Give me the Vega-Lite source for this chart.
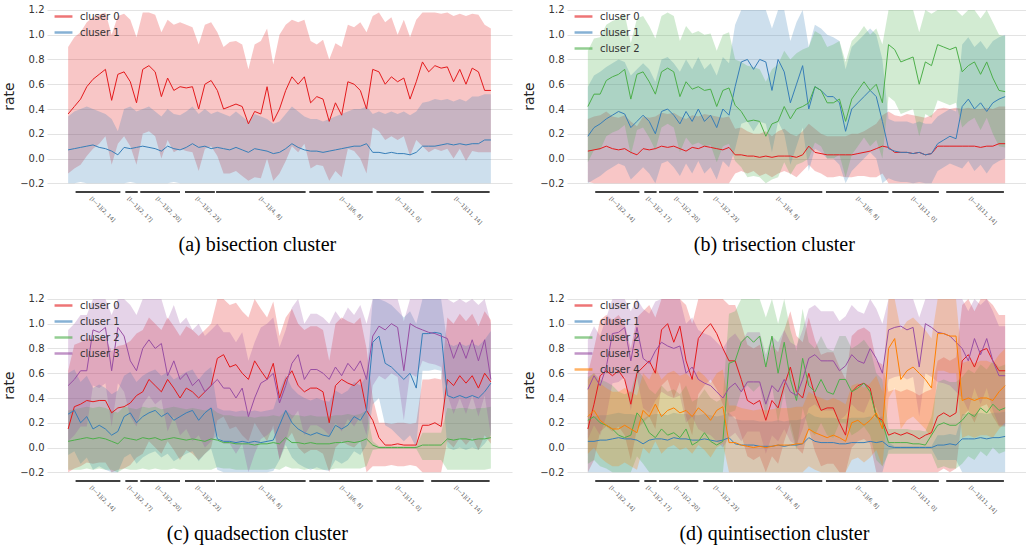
{
"$schema": "https://vega.github.io/schema/vega-lite/v6.json",
"background": "white",
"padding": {"left": 2, "top": 0, "right": 0, "bottom": 0},
"config": {
  "font": "DejaVu Sans",
  "view": {"stroke": null},
  "axisY": {"grid": true, "gridColor": "#e3e3e3", "ticks": false, "tickSize": 0, "domain": false, "labelFontSize": 10, "labelColor": "#333", "labelPadding": 3, "titleFontSize": 14, "titleFontWeight": "normal", "titleColor": "#222", "titlePadding": 3, "tickCount": 8},
  "legend": {"orient": "top-left", "offset": 6, "padding": 0, "rowPadding": -4, "labelFontSize": 10, "labelColor": "#333", "symbolType": "stroke", "symbolSize": 320, "symbolStrokeWidth": 2.5, "labelOffset": 6, "symbolOpacity": 0.6}
},
"datasets": {
  "seg": [{"s":6,"e":42},{"s":46,"e":56},{"s":58,"e":90},{"s":94,"e":118},{"s":119,"e":191},{"s":194,"e":245},{"s":248,"e":286},{"s":292,"e":339}],
  "pa": [
{"x":0,"m0":0.36,"l0":-0.12,"h0":0.9,"m1":0.07,"l1":-0.2,"h1":0.34},
{"x":5,"m0":0.42,"l0":-0.08,"h0":0.98,"m1":0.08,"l1":-0.2,"h1":0.38},
{"x":10,"m0":0.48,"l0":-0.05,"h0":1.02,"m1":0.09,"l1":-0.19,"h1":0.4},
{"x":15,"m0":0.58,"l0":0.02,"h0":1.1,"m1":0.1,"l1":-0.2,"h1":0.42},
{"x":20,"m0":0.64,"l0":0.08,"h0":1.14,"m1":0.11,"l1":-0.2,"h1":0.4},
{"x":25,"m0":0.68,"l0":0.12,"h0":1.16,"m1":0.09,"l1":-0.2,"h1":0.38},
{"x":30,"m0":0.72,"l0":0.18,"h0":1.18,"m1":0.08,"l1":-0.2,"h1":0.36},
{"x":35,"m0":0.47,"l0":-0.05,"h0":1.0,"m1":0.06,"l1":-0.2,"h1":0.32},
{"x":40,"m0":0.68,"l0":0.12,"h0":1.15,"m1":0.03,"l1":-0.2,"h1":0.22},
{"x":45,"m0":0.7,"l0":0.18,"h0":1.17,"m1":0.09,"l1":-0.2,"h1":0.4},
{"x":50,"m0":0.62,"l0":0.1,"h0":1.12,"m1":0.08,"l1":-0.19,"h1":0.42},
{"x":55,"m0":0.45,"l0":-0.05,"h0":0.98,"m1":0.09,"l1":-0.2,"h1":0.38},
{"x":60,"m0":0.72,"l0":0.2,"h0":1.18,"m1":0.1,"l1":-0.2,"h1":0.4},
{"x":65,"m0":0.75,"l0":0.22,"h0":1.18,"m1":0.09,"l1":-0.2,"h1":0.42},
{"x":70,"m0":0.7,"l0":0.18,"h0":1.16,"m1":0.08,"l1":-0.2,"h1":0.38},
{"x":75,"m0":0.5,"l0":0.0,"h0":1.02,"m1":0.06,"l1":-0.2,"h1":0.34},
{"x":80,"m0":0.65,"l0":0.15,"h0":1.12,"m1":0.1,"l1":-0.2,"h1":0.4},
{"x":85,"m0":0.55,"l0":0.05,"h0":1.08,"m1":0.08,"l1":-0.19,"h1":0.36},
{"x":90,"m0":0.58,"l0":0.08,"h0":1.1,"m1":0.07,"l1":-0.2,"h1":0.35},
{"x":95,"m0":0.57,"l0":0.06,"h0":1.08,"m1":0.09,"l1":-0.2,"h1":0.38},
{"x":100,"m0":0.58,"l0":0.05,"h0":1.06,"m1":0.12,"l1":-0.2,"h1":0.42},
{"x":105,"m0":0.4,"l0":-0.1,"h0":0.92,"m1":0.09,"l1":-0.2,"h1":0.36},
{"x":110,"m0":0.6,"l0":0.08,"h0":1.08,"m1":0.1,"l1":-0.2,"h1":0.4},
{"x":115,"m0":0.63,"l0":0.1,"h0":1.1,"m1":0.08,"l1":-0.2,"h1":0.36},
{"x":120,"m0":0.55,"l0":0.02,"h0":1.02,"m1":0.09,"l1":-0.2,"h1":0.38},
{"x":125,"m0":0.4,"l0":-0.12,"h0":0.9,"m1":0.08,"l1":-0.2,"h1":0.36},
{"x":130,"m0":0.42,"l0":-0.12,"h0":0.94,"m1":0.07,"l1":-0.2,"h1":0.34},
{"x":135,"m0":0.44,"l0":-0.1,"h0":0.95,"m1":0.09,"l1":-0.2,"h1":0.38},
{"x":140,"m0":0.42,"l0":-0.14,"h0":0.92,"m1":0.07,"l1":-0.2,"h1":0.34},
{"x":145,"m0":0.28,"l0":-0.18,"h0":0.72,"m1":0.05,"l1":-0.2,"h1":0.3},
{"x":150,"m0":0.38,"l0":-0.15,"h0":0.92,"m1":0.08,"l1":-0.2,"h1":0.36},
{"x":155,"m0":0.36,"l0":-0.16,"h0":0.95,"m1":0.07,"l1":-0.2,"h1":0.34},
{"x":160,"m0":0.58,"l0":0.0,"h0":1.05,"m1":0.06,"l1":-0.2,"h1":0.32},
{"x":165,"m0":0.3,"l0":-0.18,"h0":0.76,"m1":0.04,"l1":-0.2,"h1":0.28},
{"x":170,"m0":0.4,"l0":-0.12,"h0":1.0,"m1":0.05,"l1":-0.2,"h1":0.3},
{"x":175,"m0":0.55,"l0":-0.02,"h0":1.08,"m1":0.08,"l1":-0.2,"h1":0.36},
{"x":180,"m0":0.66,"l0":0.1,"h0":1.12,"m1":0.12,"l1":-0.2,"h1":0.42},
{"x":185,"m0":0.6,"l0":0.05,"h0":1.1,"m1":0.09,"l1":-0.2,"h1":0.38},
{"x":190,"m0":0.66,"l0":0.12,"h0":1.12,"m1":0.07,"l1":-0.2,"h1":0.34},
{"x":195,"m0":0.45,"l0":-0.08,"h0":0.95,"m1":0.06,"l1":-0.2,"h1":0.32},
{"x":200,"m0":0.5,"l0":-0.05,"h0":0.92,"m1":0.06,"l1":-0.2,"h1":0.32},
{"x":205,"m0":0.48,"l0":-0.06,"h0":0.96,"m1":0.05,"l1":-0.2,"h1":0.3},
{"x":210,"m0":0.3,"l0":-0.18,"h0":0.8,"m1":0.06,"l1":-0.2,"h1":0.32},
{"x":215,"m0":0.45,"l0":-0.1,"h0":0.93,"m1":0.07,"l1":-0.2,"h1":0.34},
{"x":220,"m0":0.35,"l0":-0.15,"h0":0.9,"m1":0.08,"l1":-0.2,"h1":0.36},
{"x":225,"m0":0.62,"l0":0.08,"h0":1.08,"m1":0.09,"l1":-0.2,"h1":0.38},
{"x":230,"m0":0.6,"l0":0.06,"h0":1.06,"m1":0.1,"l1":-0.2,"h1":0.4},
{"x":235,"m0":0.55,"l0":0.0,"h0":1.1,"m1":0.1,"l1":-0.2,"h1":0.4},
{"x":240,"m0":0.4,"l0":-0.12,"h0":1.02,"m1":0.12,"l1":-0.2,"h1":0.42},
{"x":245,"m0":0.72,"l0":0.25,"h0":1.15,"m1":0.05,"l1":-0.2,"h1":0.36},
{"x":250,"m0":0.7,"l0":0.22,"h0":1.18,"m1":0.05,"l1":-0.2,"h1":0.38},
{"x":255,"m0":0.6,"l0":0.15,"h0":1.1,"m1":0.04,"l1":-0.2,"h1":0.36},
{"x":260,"m0":0.66,"l0":0.18,"h0":1.14,"m1":0.05,"l1":-0.2,"h1":0.38},
{"x":265,"m0":0.62,"l0":0.15,"h0":1.0,"m1":0.04,"l1":-0.2,"h1":0.36},
{"x":270,"m0":0.65,"l0":0.18,"h0":1.12,"m1":0.04,"l1":-0.2,"h1":0.38},
{"x":275,"m0":0.48,"l0":0.02,"h0":0.98,"m1":0.03,"l1":-0.2,"h1":0.35},
{"x":280,"m0":0.62,"l0":0.15,"h0":1.12,"m1":0.05,"l1":-0.2,"h1":0.38},
{"x":285,"m0":0.78,"l0":0.1,"h0":1.18,"m1":0.1,"l1":-0.2,"h1":0.45},
{"x":290,"m0":0.7,"l0":0.05,"h0":1.18,"m1":0.1,"l1":-0.2,"h1":0.46},
{"x":295,"m0":0.75,"l0":0.08,"h0":1.18,"m1":0.1,"l1":-0.2,"h1":0.48},
{"x":300,"m0":0.73,"l0":0.06,"h0":1.17,"m1":0.11,"l1":-0.2,"h1":0.47},
{"x":305,"m0":0.74,"l0":0.08,"h0":1.18,"m1":0.12,"l1":-0.2,"h1":0.48},
{"x":310,"m0":0.62,"l0":0.0,"h0":1.15,"m1":0.11,"l1":-0.2,"h1":0.46},
{"x":315,"m0":0.72,"l0":0.08,"h0":1.17,"m1":0.12,"l1":-0.2,"h1":0.48},
{"x":320,"m0":0.6,"l0":-0.02,"h0":1.15,"m1":0.11,"l1":-0.2,"h1":0.46},
{"x":325,"m0":0.73,"l0":0.06,"h0":1.17,"m1":0.12,"l1":-0.2,"h1":0.5},
{"x":330,"m0":0.7,"l0":0.05,"h0":1.16,"m1":0.12,"l1":-0.2,"h1":0.5},
{"x":335,"m0":0.55,"l0":0.05,"h0":1.08,"m1":0.15,"l1":-0.2,"h1":0.52},
{"x":340,"m0":0.55,"l0":0.05,"h0":1.05,"m1":0.15,"l1":-0.2,"h1":0.52}
  ],
  "pb": [
{"x":0,"m0":0.06,"l0":-0.19,"h0":0.32,"m1":0.18,"l1":-0.2,"h1":0.58,"m2":0.42,"l2":-0.03,"h2":0.87},
{"x":5,"m0":0.07,"l0":-0.2,"h0":0.34,"m1":0.25,"l1":-0.17,"h1":0.67,"m2":0.52,"l2":0.07,"h2":0.97},
{"x":10,"m0":0.08,"l0":-0.2,"h0":0.35,"m1":0.28,"l1":-0.14,"h1":0.7,"m2":0.52,"l2":0.07,"h2":0.98},
{"x":15,"m0":0.1,"l0":-0.2,"h0":0.38,"m1":0.32,"l1":-0.1,"h1":0.74,"m2":0.63,"l2":0.18,"h2":1.08},
{"x":20,"m0":0.08,"l0":-0.2,"h0":0.34,"m1":0.35,"l1":-0.07,"h1":0.77,"m2":0.66,"l2":0.21,"h2":1.11},
{"x":25,"m0":0.07,"l0":-0.2,"h0":0.33,"m1":0.38,"l1":-0.04,"h1":0.8,"m2":0.68,"l2":0.23,"h2":1.13},
{"x":30,"m0":0.08,"l0":-0.2,"h0":0.35,"m1":0.36,"l1":-0.06,"h1":0.78,"m2":0.72,"l2":0.27,"h2":1.17},
{"x":35,"m0":0.05,"l0":-0.2,"h0":0.3,"m1":0.25,"l1":-0.17,"h1":0.67,"m2":0.48,"l2":0.03,"h2":0.93},
{"x":40,"m0":0.03,"l0":-0.2,"h0":0.26,"m1":0.3,"l1":-0.12,"h1":0.72,"m2":0.68,"l2":0.23,"h2":1.13},
{"x":45,"m0":0.08,"l0":-0.2,"h0":0.34,"m1":0.35,"l1":-0.07,"h1":0.77,"m2":0.7,"l2":0.25,"h2":1.15},
{"x":50,"m0":0.07,"l0":-0.2,"h0":0.33,"m1":0.3,"l1":-0.12,"h1":0.72,"m2":0.62,"l2":0.17,"h2":1.07},
{"x":55,"m0":0.08,"l0":-0.2,"h0":0.34,"m1":0.2,"l1":-0.2,"h1":0.62,"m2":0.52,"l2":0.07,"h2":0.97},
{"x":60,"m0":0.1,"l0":-0.2,"h0":0.37,"m1":0.38,"l1":-0.04,"h1":0.8,"m2":0.7,"l2":0.25,"h2":1.15},
{"x":65,"m0":0.09,"l0":-0.2,"h0":0.36,"m1":0.4,"l1":-0.02,"h1":0.82,"m2":0.73,"l2":0.28,"h2":1.18},
{"x":70,"m0":0.1,"l0":-0.2,"h0":0.37,"m1":0.35,"l1":-0.07,"h1":0.77,"m2":0.7,"l2":0.25,"h2":1.15},
{"x":75,"m0":0.08,"l0":-0.2,"h0":0.34,"m1":0.28,"l1":-0.14,"h1":0.7,"m2":0.5,"l2":0.05,"h2":0.95},
{"x":80,"m0":0.06,"l0":-0.2,"h0":0.32,"m1":0.38,"l1":-0.04,"h1":0.8,"m2":0.62,"l2":0.17,"h2":1.07},
{"x":85,"m0":0.09,"l0":-0.2,"h0":0.35,"m1":0.3,"l1":-0.12,"h1":0.72,"m2":0.56,"l2":0.11,"h2":1.01},
{"x":90,"m0":0.08,"l0":-0.2,"h0":0.34,"m1":0.4,"l1":-0.02,"h1":0.82,"m2":0.58,"l2":0.13,"h2":1.03},
{"x":95,"m0":0.1,"l0":-0.2,"h0":0.36,"m1":0.3,"l1":-0.12,"h1":0.72,"m2":0.55,"l2":0.1,"h2":1.0},
{"x":100,"m0":0.09,"l0":-0.2,"h0":0.35,"m1":0.35,"l1":-0.07,"h1":0.77,"m2":0.56,"l2":0.11,"h2":1.01},
{"x":105,"m0":0.08,"l0":-0.2,"h0":0.34,"m1":0.25,"l1":-0.17,"h1":0.67,"m2":0.42,"l2":-0.03,"h2":0.87},
{"x":110,"m0":0.07,"l0":-0.2,"h0":0.33,"m1":0.4,"l1":-0.02,"h1":0.82,"m2":0.55,"l2":0.1,"h2":1.0},
{"x":115,"m0":0.09,"l0":-0.2,"h0":0.34,"m1":0.35,"l1":-0.07,"h1":0.77,"m2":0.57,"l2":0.12,"h2":1.02},
{"x":120,"m0":0.03,"l0":-0.12,"h0":0.24,"m1":0.58,"l1":0.08,"h1":1.08,"m2":0.43,"l2":-0.02,"h2":0.8},
{"x":125,"m0":0.03,"l0":-0.1,"h0":0.25,"m1":0.78,"l1":0.28,"h1":1.2,"m2":0.38,"l2":-0.07,"h2":0.78},
{"x":130,"m0":0.02,"l0":-0.12,"h0":0.22,"m1":0.8,"l1":0.3,"h1":1.2,"m2":0.3,"l2":-0.15,"h2":0.75},
{"x":135,"m0":0.02,"l0":-0.1,"h0":0.2,"m1":0.72,"l1":0.22,"h1":1.2,"m2":0.31,"l2":-0.14,"h2":0.74},
{"x":140,"m0":0.01,"l0":-0.14,"h0":0.2,"m1":0.8,"l1":0.3,"h1":1.2,"m2":0.3,"l2":-0.15,"h2":0.72},
{"x":145,"m0":0.02,"l0":-0.12,"h0":0.22,"m1":0.78,"l1":0.28,"h1":1.2,"m2":0.18,"l2":-0.2,"h2":0.62},
{"x":150,"m0":0.01,"l0":-0.15,"h0":0.18,"m1":0.55,"l1":0.05,"h1":1.05,"m2":0.28,"l2":-0.17,"h2":0.72},
{"x":155,"m0":0.02,"l0":-0.12,"h0":0.22,"m1":0.8,"l1":0.3,"h1":1.2,"m2":0.3,"l2":-0.15,"h2":0.76},
{"x":160,"m0":0.02,"l0":-0.1,"h0":0.24,"m1":0.7,"l1":0.2,"h1":1.2,"m2":0.42,"l2":-0.03,"h2":0.87},
{"x":165,"m0":0.02,"l0":-0.12,"h0":0.2,"m1":0.45,"l1":-0.05,"h1":0.95,"m2":0.32,"l2":-0.13,"h2":0.8},
{"x":170,"m0":0.01,"l0":-0.15,"h0":0.18,"m1":0.6,"l1":0.1,"h1":1.1,"m2":0.4,"l2":-0.05,"h2":0.85},
{"x":175,"m0":0.03,"l0":-0.1,"h0":0.22,"m1":0.75,"l1":0.25,"h1":1.2,"m2":0.42,"l2":-0.03,"h2":0.88},
{"x":180,"m0":0.1,"l0":-0.05,"h0":0.28,"m1":0.4,"l1":-0.1,"h1":0.9,"m2":0.45,"l2":0.0,"h2":0.9},
{"x":185,"m0":0.05,"l0":-0.1,"h0":0.24,"m1":0.58,"l1":0.08,"h1":1.08,"m2":0.58,"l2":0.13,"h2":1.03},
{"x":190,"m0":0.04,"l0":-0.12,"h0":0.2,"m1":0.55,"l1":0.05,"h1":1.05,"m2":0.55,"l2":0.1,"h2":1.0},
{"x":195,"m0":0.03,"l0":-0.15,"h0":0.18,"m1":0.5,"l1":0.0,"h1":1.0,"m2":0.45,"l2":0.0,"h2":0.9},
{"x":200,"m0":0.03,"l0":-0.15,"h0":0.18,"m1":0.5,"l1":0.0,"h1":0.98,"m2":0.45,"l2":0.0,"h2":0.92},
{"x":205,"m0":0.03,"l0":-0.14,"h0":0.18,"m1":0.45,"l1":-0.05,"h1":0.95,"m2":0.48,"l2":0.03,"h2":0.95},
{"x":210,"m0":0.03,"l0":-0.15,"h0":0.18,"m1":0.22,"l1":-0.2,"h1":0.72,"m2":0.3,"l2":-0.15,"h2":0.78},
{"x":215,"m0":0.03,"l0":-0.15,"h0":0.2,"m1":0.4,"l1":-0.1,"h1":0.9,"m2":0.48,"l2":0.03,"h2":0.95},
{"x":220,"m0":0.04,"l0":-0.14,"h0":0.2,"m1":0.45,"l1":-0.05,"h1":0.95,"m2":0.55,"l2":0.1,"h2":1.0},
{"x":225,"m0":0.05,"l0":-0.14,"h0":0.22,"m1":0.5,"l1":0.0,"h1":1.0,"m2":0.62,"l2":0.17,"h2":1.07},
{"x":230,"m0":0.06,"l0":-0.15,"h0":0.25,"m1":0.55,"l1":0.05,"h1":1.05,"m2":0.55,"l2":0.1,"h2":1.0},
{"x":235,"m0":0.08,"l0":-0.15,"h0":0.28,"m1":0.5,"l1":0.0,"h1":1.0,"m2":0.6,"l2":0.15,"h2":1.05},
{"x":240,"m0":0.1,"l0":-0.12,"h0":0.35,"m1":0.3,"l1":-0.2,"h1":0.8,"m2":0.45,"l2":0.0,"h2":0.92},
{"x":245,"m0":0.09,"l0":-0.2,"h0":0.38,"m1":0.08,"l1":-0.16,"h1":0.32,"m2":0.92,"l2":0.5,"h2":1.2},
{"x":250,"m0":0.05,"l0":-0.2,"h0":0.35,"m1":0.06,"l1":-0.18,"h1":0.3,"m2":0.88,"l2":0.46,"h2":1.2},
{"x":255,"m0":0.05,"l0":-0.2,"h0":0.34,"m1":0.05,"l1":-0.19,"h1":0.3,"m2":0.78,"l2":0.36,"h2":1.2},
{"x":260,"m0":0.05,"l0":-0.2,"h0":0.36,"m1":0.05,"l1":-0.19,"h1":0.3,"m2":0.8,"l2":0.38,"h2":1.2},
{"x":265,"m0":0.04,"l0":-0.2,"h0":0.35,"m1":0.04,"l1":-0.2,"h1":0.28,"m2":0.82,"l2":0.4,"h2":1.2},
{"x":270,"m0":0.05,"l0":-0.2,"h0":0.34,"m1":0.05,"l1":-0.19,"h1":0.3,"m2":0.6,"l2":0.18,"h2":1.02},
{"x":275,"m0":0.03,"l0":-0.2,"h0":0.33,"m1":0.03,"l1":-0.2,"h1":0.28,"m2":0.78,"l2":0.36,"h2":1.2},
{"x":280,"m0":0.04,"l0":-0.2,"h0":0.35,"m1":0.04,"l1":-0.2,"h1":0.28,"m2":0.75,"l2":0.33,"h2":1.17},
{"x":285,"m0":0.1,"l0":-0.2,"h0":0.4,"m1":0.12,"l1":-0.1,"h1":0.34,"m2":0.92,"l2":0.47,"h2":1.2},
{"x":290,"m0":0.1,"l0":-0.2,"h0":0.41,"m1":0.15,"l1":-0.07,"h1":0.37,"m2":0.9,"l2":0.45,"h2":1.2},
{"x":295,"m0":0.1,"l0":-0.2,"h0":0.4,"m1":0.18,"l1":-0.04,"h1":0.4,"m2":0.88,"l2":0.43,"h2":1.2},
{"x":300,"m0":0.1,"l0":-0.2,"h0":0.41,"m1":0.16,"l1":-0.06,"h1":0.38,"m2":0.9,"l2":0.45,"h2":1.2},
{"x":305,"m0":0.1,"l0":-0.2,"h0":0.4,"m1":0.42,"l1":-0.08,"h1":0.92,"m2":0.7,"l2":0.25,"h2":1.15},
{"x":310,"m0":0.1,"l0":-0.2,"h0":0.41,"m1":0.48,"l1":-0.02,"h1":0.98,"m2":0.75,"l2":0.3,"h2":1.2},
{"x":315,"m0":0.1,"l0":-0.2,"h0":0.4,"m1":0.4,"l1":-0.1,"h1":0.9,"m2":0.78,"l2":0.33,"h2":1.2},
{"x":320,"m0":0.09,"l0":-0.2,"h0":0.4,"m1":0.45,"l1":-0.05,"h1":0.95,"m2":0.68,"l2":0.23,"h2":1.13},
{"x":325,"m0":0.1,"l0":-0.2,"h0":0.41,"m1":0.38,"l1":-0.12,"h1":0.88,"m2":0.78,"l2":0.33,"h2":1.2},
{"x":330,"m0":0.1,"l0":-0.2,"h0":0.4,"m1":0.45,"l1":-0.05,"h1":0.95,"m2":0.65,"l2":0.2,"h2":1.1},
{"x":335,"m0":0.12,"l0":-0.2,"h0":0.42,"m1":0.48,"l1":-0.02,"h1":0.98,"m2":0.55,"l2":0.1,"h2":1.0},
{"x":340,"m0":0.12,"l0":-0.2,"h0":0.42,"m1":0.5,"l1":0.0,"h1":1.0,"m2":0.54,"l2":0.09,"h2":0.99}
  ],
  "pc": [
{"x":0,"m0":0.15,"l0":-0.2,"h0":0.62,"m1":0.27,"l1":-0.06,"h1":0.6,"m2":0.05,"l2":-0.18,"h2":0.3,"m3":0.5,"l3":0.05,"h3":0.95},
{"x":5,"m0":0.33,"l0":-0.17,"h0":0.83,"m1":0.3,"l1":-0.03,"h1":0.63,"m2":0.06,"l2":-0.18,"h2":0.31,"m3":0.55,"l3":0.1,"h3":1.0},
{"x":10,"m0":0.35,"l0":-0.15,"h0":0.85,"m1":0.2,"l1":-0.13,"h1":0.53,"m2":0.07,"l2":-0.18,"h2":0.32,"m3":0.62,"l3":0.17,"h3":1.07},
{"x":15,"m0":0.38,"l0":-0.12,"h0":0.88,"m1":0.25,"l1":-0.08,"h1":0.58,"m2":0.08,"l2":-0.17,"h2":0.33,"m3":0.62,"l3":0.17,"h3":1.07},
{"x":20,"m0":0.37,"l0":-0.13,"h0":0.87,"m1":0.15,"l1":-0.18,"h1":0.48,"m2":0.07,"l2":-0.18,"h2":0.32,"m3":0.95,"l3":0.5,"h3":1.2},
{"x":25,"m0":0.38,"l0":-0.12,"h0":0.88,"m1":0.18,"l1":-0.15,"h1":0.51,"m2":0.08,"l2":-0.17,"h2":0.33,"m3":0.93,"l3":0.48,"h3":1.2},
{"x":30,"m0":0.38,"l0":-0.12,"h0":0.88,"m1":0.15,"l1":-0.18,"h1":0.48,"m2":0.07,"l2":-0.18,"h2":0.32,"m3":0.97,"l3":0.52,"h3":1.2},
{"x":35,"m0":0.28,"l0":-0.2,"h0":0.78,"m1":0.1,"l1":-0.2,"h1":0.43,"m2":0.05,"l2":-0.18,"h2":0.3,"m3":0.62,"l3":0.17,"h3":1.07},
{"x":40,"m0":0.32,"l0":-0.18,"h0":0.82,"m1":0.13,"l1":-0.2,"h1":0.46,"m2":0.03,"l2":-0.2,"h2":0.28,"m3":0.97,"l3":0.52,"h3":1.2},
{"x":45,"m0":0.33,"l0":-0.17,"h0":0.83,"m1":0.25,"l1":-0.08,"h1":0.58,"m2":0.08,"l2":-0.17,"h2":0.33,"m3":0.9,"l3":0.45,"h3":1.2},
{"x":50,"m0":0.36,"l0":-0.14,"h0":0.86,"m1":0.28,"l1":-0.05,"h1":0.61,"m2":0.07,"l2":-0.18,"h2":0.32,"m3":0.7,"l3":0.25,"h3":1.15},
{"x":55,"m0":0.42,"l0":-0.08,"h0":0.92,"m1":0.2,"l1":-0.13,"h1":0.53,"m2":0.06,"l2":-0.18,"h2":0.31,"m3":0.62,"l3":0.17,"h3":1.07},
{"x":60,"m0":0.45,"l0":-0.05,"h0":0.95,"m1":0.25,"l1":-0.08,"h1":0.58,"m2":0.08,"l2":-0.17,"h2":0.33,"m3":0.8,"l3":0.35,"h3":1.2},
{"x":65,"m0":0.55,"l0":0.05,"h0":1.05,"m1":0.28,"l1":-0.05,"h1":0.61,"m2":0.07,"l2":-0.18,"h2":0.32,"m3":0.87,"l3":0.42,"h3":1.2},
{"x":70,"m0":0.5,"l0":0.0,"h0":1.0,"m1":0.3,"l1":-0.03,"h1":0.63,"m2":0.08,"l2":-0.17,"h2":0.33,"m3":0.8,"l3":0.35,"h3":1.2},
{"x":75,"m0":0.45,"l0":-0.05,"h0":0.95,"m1":0.25,"l1":-0.08,"h1":0.58,"m2":0.06,"l2":-0.18,"h2":0.31,"m3":0.84,"l3":0.39,"h3":1.2},
{"x":80,"m0":0.55,"l0":0.05,"h0":1.05,"m1":0.28,"l1":-0.05,"h1":0.61,"m2":0.07,"l2":-0.18,"h2":0.32,"m3":0.58,"l3":0.13,"h3":1.03},
{"x":85,"m0":0.48,"l0":-0.02,"h0":0.98,"m1":0.22,"l1":-0.11,"h1":0.55,"m2":0.08,"l2":-0.17,"h2":0.33,"m3":0.7,"l3":0.25,"h3":1.15},
{"x":90,"m0":0.4,"l0":-0.1,"h0":0.9,"m1":0.25,"l1":-0.08,"h1":0.58,"m2":0.07,"l2":-0.18,"h2":0.32,"m3":0.55,"l3":0.1,"h3":1.0},
{"x":95,"m0":0.48,"l0":-0.02,"h0":0.98,"m1":0.28,"l1":-0.05,"h1":0.61,"m2":0.06,"l2":-0.18,"h2":0.31,"m3":0.6,"l3":0.15,"h3":1.05},
{"x":100,"m0":0.45,"l0":-0.05,"h0":0.95,"m1":0.3,"l1":-0.03,"h1":0.63,"m2":0.07,"l2":-0.18,"h2":0.32,"m3":0.5,"l3":0.05,"h3":0.95},
{"x":105,"m0":0.4,"l0":-0.1,"h0":0.9,"m1":0.22,"l1":-0.11,"h1":0.55,"m2":0.06,"l2":-0.18,"h2":0.31,"m3":0.55,"l3":0.1,"h3":1.0},
{"x":110,"m0":0.45,"l0":-0.05,"h0":0.95,"m1":0.28,"l1":-0.05,"h1":0.61,"m2":0.05,"l2":-0.18,"h2":0.3,"m3":0.45,"l3":0.0,"h3":0.9},
{"x":115,"m0":0.5,"l0":0.0,"h0":1.0,"m1":0.32,"l1":-0.01,"h1":0.65,"m2":0.07,"l2":-0.18,"h2":0.32,"m3":0.5,"l3":0.05,"h3":0.95},
{"x":120,"m0":0.72,"l0":0.22,"h0":1.2,"m1":0.07,"l1":-0.18,"h1":0.32,"m2":0.06,"l2":-0.16,"h2":0.28,"m3":0.55,"l3":0.1,"h3":1.0},
{"x":125,"m0":0.75,"l0":0.25,"h0":1.2,"m1":0.05,"l1":-0.2,"h1":0.3,"m2":0.04,"l2":-0.17,"h2":0.26,"m3":0.48,"l3":0.03,"h3":0.93},
{"x":130,"m0":0.65,"l0":0.15,"h0":1.15,"m1":0.05,"l1":-0.2,"h1":0.3,"m2":0.04,"l2":-0.17,"h2":0.26,"m3":0.48,"l3":0.03,"h3":0.93},
{"x":135,"m0":0.67,"l0":0.17,"h0":1.17,"m1":0.04,"l1":-0.2,"h1":0.29,"m2":0.03,"l2":-0.18,"h2":0.25,"m3":0.4,"l3":-0.05,"h3":0.85},
{"x":140,"m0":0.6,"l0":0.1,"h0":1.1,"m1":0.05,"l1":-0.2,"h1":0.3,"m2":0.03,"l2":-0.18,"h2":0.25,"m3":0.48,"l3":0.03,"h3":0.93},
{"x":145,"m0":0.55,"l0":0.05,"h0":1.05,"m1":0.04,"l1":-0.2,"h1":0.29,"m2":0.03,"l2":-0.18,"h2":0.25,"m3":0.25,"l3":-0.2,"h3":0.7},
{"x":150,"m0":0.7,"l0":0.2,"h0":1.2,"m1":0.05,"l1":-0.2,"h1":0.3,"m2":0.02,"l2":-0.18,"h2":0.24,"m3":0.4,"l3":-0.05,"h3":0.85},
{"x":155,"m0":0.62,"l0":0.12,"h0":1.12,"m1":0.04,"l1":-0.2,"h1":0.29,"m2":0.03,"l2":-0.18,"h2":0.25,"m3":0.52,"l3":0.07,"h3":0.97},
{"x":160,"m0":0.55,"l0":0.05,"h0":1.05,"m1":0.05,"l1":-0.2,"h1":0.3,"m2":0.03,"l2":-0.18,"h2":0.25,"m3":0.55,"l3":0.1,"h3":1.0},
{"x":165,"m0":0.68,"l0":0.18,"h0":1.18,"m1":0.06,"l1":-0.19,"h1":0.31,"m2":0.04,"l2":-0.17,"h2":0.26,"m3":0.6,"l3":0.15,"h3":1.05},
{"x":170,"m0":0.4,"l0":-0.1,"h0":0.9,"m1":0.18,"l1":-0.1,"h1":0.46,"m2":0.03,"l2":-0.18,"h2":0.25,"m3":0.36,"l3":-0.09,"h3":0.81},
{"x":175,"m0":0.55,"l0":0.05,"h0":1.05,"m1":0.3,"l1":0.02,"h1":0.58,"m2":0.08,"l2":-0.15,"h2":0.3,"m3":0.5,"l3":0.05,"h3":0.95},
{"x":180,"m0":0.62,"l0":0.12,"h0":1.12,"m1":0.2,"l1":-0.08,"h1":0.48,"m2":0.04,"l2":-0.17,"h2":0.26,"m3":0.68,"l3":0.23,"h3":1.13},
{"x":185,"m0":0.5,"l0":0.0,"h0":1.0,"m1":0.15,"l1":-0.13,"h1":0.43,"m2":0.04,"l2":-0.17,"h2":0.26,"m3":0.75,"l3":0.3,"h3":1.2},
{"x":190,"m0":0.45,"l0":-0.05,"h0":0.95,"m1":0.12,"l1":-0.16,"h1":0.4,"m2":0.03,"l2":-0.18,"h2":0.25,"m3":0.55,"l3":0.1,"h3":1.0},
{"x":195,"m0":0.48,"l0":-0.02,"h0":0.98,"m1":0.1,"l1":-0.18,"h1":0.38,"m2":0.04,"l2":-0.17,"h2":0.26,"m3":0.63,"l3":0.18,"h3":1.08},
{"x":200,"m0":0.48,"l0":-0.02,"h0":0.98,"m1":0.12,"l1":-0.16,"h1":0.4,"m2":0.03,"l2":-0.18,"h2":0.25,"m3":0.63,"l3":0.18,"h3":1.08},
{"x":205,"m0":0.45,"l0":-0.05,"h0":0.95,"m1":0.1,"l1":-0.18,"h1":0.38,"m2":0.03,"l2":-0.18,"h2":0.25,"m3":0.6,"l3":0.15,"h3":1.05},
{"x":210,"m0":0.2,"l0":-0.2,"h0":0.7,"m1":0.09,"l1":-0.19,"h1":0.37,"m2":0.03,"l2":-0.18,"h2":0.25,"m3":0.55,"l3":0.1,"h3":1.0},
{"x":215,"m0":0.5,"l0":0.0,"h0":1.0,"m1":0.18,"l1":-0.1,"h1":0.46,"m2":0.04,"l2":-0.17,"h2":0.26,"m3":0.65,"l3":0.2,"h3":1.1},
{"x":220,"m0":0.55,"l0":0.05,"h0":1.05,"m1":0.15,"l1":-0.13,"h1":0.43,"m2":0.04,"l2":-0.17,"h2":0.26,"m3":0.58,"l3":0.13,"h3":1.03},
{"x":225,"m0":0.52,"l0":0.02,"h0":1.02,"m1":0.18,"l1":-0.1,"h1":0.46,"m2":0.05,"l2":-0.17,"h2":0.27,"m3":0.68,"l3":0.23,"h3":1.13},
{"x":230,"m0":0.5,"l0":0.0,"h0":1.0,"m1":0.25,"l1":-0.03,"h1":0.53,"m2":0.04,"l2":-0.17,"h2":0.26,"m3":0.62,"l3":0.17,"h3":1.07},
{"x":235,"m0":0.55,"l0":0.05,"h0":1.05,"m1":0.22,"l1":-0.06,"h1":0.5,"m2":0.05,"l2":-0.17,"h2":0.27,"m3":0.7,"l3":0.25,"h3":1.15},
{"x":240,"m0":0.3,"l0":-0.2,"h0":0.8,"m1":0.3,"l1":0.02,"h1":0.58,"m2":0.07,"l2":-0.15,"h2":0.3,"m3":0.55,"l3":0.1,"h3":1.0},
{"x":245,"m0":0.22,"l0":-0.15,"h0":0.4,"m1":0.85,"l1":0.35,"h1":1.2,"m2":0.02,"l2":-0.02,"h2":0.05,"m3":0.9,"l3":0.5,"h3":1.2},
{"x":250,"m0":0.08,"l0":-0.15,"h0":0.2,"m1":0.9,"l1":0.4,"h1":1.2,"m2":0.0,"l2":-0.01,"h2":0.01,"m3":0.98,"l3":0.58,"h3":1.2},
{"x":255,"m0":0.02,"l0":-0.15,"h0":0.2,"m1":0.68,"l1":0.18,"h1":1.18,"m2":0.0,"l2":-0.01,"h2":0.01,"m3":0.95,"l3":0.55,"h3":1.2},
{"x":260,"m0":0.02,"l0":-0.14,"h0":0.19,"m1":0.65,"l1":0.15,"h1":1.15,"m2":0.0,"l2":-0.01,"h2":0.01,"m3":1.0,"l3":0.6,"h3":1.2},
{"x":265,"m0":0.03,"l0":-0.15,"h0":0.2,"m1":0.6,"l1":0.1,"h1":1.1,"m2":0.0,"l2":-0.01,"h2":0.01,"m3":0.97,"l3":0.57,"h3":1.2},
{"x":270,"m0":0.02,"l0":-0.15,"h0":0.2,"m1":0.55,"l1":0.05,"h1":1.05,"m2":0.0,"l2":-0.01,"h2":0.01,"m3":0.62,"l3":0.22,"h3":1.02},
{"x":275,"m0":0.02,"l0":-0.14,"h0":0.19,"m1":0.6,"l1":0.1,"h1":1.1,"m2":0.0,"l2":-0.01,"h2":0.01,"m3":1.0,"l3":0.6,"h3":1.2},
{"x":280,"m0":0.02,"l0":-0.15,"h0":0.2,"m1":0.48,"l1":0.0,"h1":1.0,"m2":0.0,"l2":-0.01,"h2":0.01,"m3":0.97,"l3":0.57,"h3":1.2},
{"x":285,"m0":0.18,"l0":-0.2,"h0":0.55,"m1":0.92,"l1":0.62,"h1":1.2,"m2":0.02,"l2":-0.1,"h2":0.12,"m3":0.95,"l3":0.7,"h3":1.2},
{"x":290,"m0":0.18,"l0":-0.2,"h0":0.55,"m1":0.92,"l1":0.62,"h1":1.2,"m2":0.02,"l2":-0.1,"h2":0.12,"m3":0.93,"l3":0.68,"h3":1.2},
{"x":295,"m0":0.2,"l0":-0.2,"h0":0.56,"m1":0.93,"l1":0.63,"h1":1.2,"m2":0.02,"l2":-0.1,"h2":0.12,"m3":0.92,"l3":0.67,"h3":1.2},
{"x":300,"m0":0.17,"l0":-0.2,"h0":0.55,"m1":0.92,"l1":0.62,"h1":1.2,"m2":0.02,"l2":-0.1,"h2":0.12,"m3":0.9,"l3":0.65,"h3":1.2},
{"x":305,"m0":0.55,"l0":0.05,"h0":1.05,"m1":0.42,"l1":0.0,"h1":0.84,"m2":0.07,"l2":-0.18,"h2":0.32,"m3":0.88,"l3":0.43,"h3":1.2},
{"x":310,"m0":0.5,"l0":0.0,"h0":1.0,"m1":0.4,"l1":-0.02,"h1":0.82,"m2":0.06,"l2":-0.18,"h2":0.31,"m3":0.72,"l3":0.27,"h3":1.17},
{"x":315,"m0":0.58,"l0":0.08,"h0":1.08,"m1":0.42,"l1":0.0,"h1":0.84,"m2":0.07,"l2":-0.18,"h2":0.32,"m3":0.85,"l3":0.4,"h3":1.2},
{"x":320,"m0":0.52,"l0":0.02,"h0":1.02,"m1":0.4,"l1":-0.02,"h1":0.82,"m2":0.07,"l2":-0.18,"h2":0.32,"m3":0.72,"l3":0.27,"h3":1.17},
{"x":325,"m0":0.58,"l0":0.08,"h0":1.08,"m1":0.42,"l1":0.0,"h1":0.84,"m2":0.06,"l2":-0.18,"h2":0.31,"m3":0.87,"l3":0.42,"h3":1.2},
{"x":330,"m0":0.48,"l0":-0.02,"h0":0.98,"m1":0.4,"l1":-0.02,"h1":0.82,"m2":0.07,"l2":-0.18,"h2":0.32,"m3":0.7,"l3":0.25,"h3":1.15},
{"x":335,"m0":0.6,"l0":0.1,"h0":1.1,"m1":0.45,"l1":0.03,"h1":0.87,"m2":0.07,"l2":-0.18,"h2":0.32,"m3":0.87,"l3":0.42,"h3":1.2},
{"x":340,"m0":0.53,"l0":0.03,"h0":1.03,"m1":0.52,"l1":0.1,"h1":0.94,"m2":0.08,"l2":-0.17,"h2":0.33,"m3":0.55,"l3":0.1,"h3":1.0}
  ],
  "pd": [
{"x":0,"m0":0.15,"l0":-0.2,"h0":0.6,"m1":0.05,"l1":-0.2,"h1":0.25,"m2":0.22,"l2":-0.13,"h2":0.57,"m3":0.47,"l3":0.07,"h3":0.87,"m4":0.25,"l4":-0.05,"h4":0.55},
{"x":5,"m0":0.35,"l0":-0.1,"h0":0.8,"m1":0.05,"l1":-0.2,"h1":0.25,"m2":0.25,"l2":-0.1,"h2":0.6,"m3":0.58,"l3":0.18,"h3":0.98,"m4":0.3,"l4":0.0,"h4":0.6},
{"x":10,"m0":0.58,"l0":0.13,"h0":1.03,"m1":0.06,"l1":-0.2,"h1":0.26,"m2":0.2,"l2":-0.15,"h2":0.55,"m3":0.5,"l3":0.1,"h3":0.9,"m4":0.22,"l4":-0.08,"h4":0.52},
{"x":15,"m0":0.62,"l0":0.17,"h0":1.07,"m1":0.06,"l1":-0.2,"h1":0.26,"m2":0.18,"l2":-0.17,"h2":0.53,"m3":0.65,"l3":0.25,"h3":1.05,"m4":0.18,"l4":-0.12,"h4":0.48},
{"x":20,"m0":0.58,"l0":0.13,"h0":1.03,"m1":0.07,"l1":-0.2,"h1":0.27,"m2":0.15,"l2":-0.2,"h2":0.5,"m3":0.92,"l3":0.52,"h3":1.2,"m4":0.15,"l4":-0.15,"h4":0.45},
{"x":25,"m0":0.62,"l0":0.17,"h0":1.07,"m1":0.08,"l1":-0.2,"h1":0.28,"m2":0.1,"l2":-0.2,"h2":0.45,"m3":0.93,"l3":0.53,"h3":1.2,"m4":0.15,"l4":-0.15,"h4":0.45},
{"x":30,"m0":0.55,"l0":0.1,"h0":1.0,"m1":0.07,"l1":-0.2,"h1":0.27,"m2":0.08,"l2":-0.2,"h2":0.43,"m3":0.97,"l3":0.57,"h3":1.2,"m4":0.18,"l4":-0.12,"h4":0.48},
{"x":35,"m0":0.35,"l0":-0.1,"h0":0.8,"m1":0.07,"l1":-0.2,"h1":0.27,"m2":0.1,"l2":-0.2,"h2":0.45,"m3":0.7,"l3":0.3,"h3":1.1,"m4":0.15,"l4":-0.15,"h4":0.45},
{"x":40,"m0":0.6,"l0":0.15,"h0":1.05,"m1":0.06,"l1":-0.2,"h1":0.26,"m2":0.28,"l2":-0.07,"h2":0.63,"m3":0.97,"l3":0.57,"h3":1.2,"m4":0.12,"l4":-0.18,"h4":0.42},
{"x":45,"m0":0.65,"l0":0.2,"h0":1.1,"m1":0.03,"l1":-0.2,"h1":0.23,"m2":0.22,"l2":-0.13,"h2":0.57,"m3":0.72,"l3":0.32,"h3":1.12,"m4":0.3,"l4":0.0,"h4":0.6},
{"x":50,"m0":0.7,"l0":0.25,"h0":1.15,"m1":0.06,"l1":-0.2,"h1":0.26,"m2":0.12,"l2":-0.2,"h2":0.47,"m3":0.68,"l3":0.28,"h3":1.08,"m4":0.25,"l4":-0.05,"h4":0.55},
{"x":55,"m0":0.6,"l0":0.15,"h0":1.05,"m1":0.07,"l1":-0.2,"h1":0.27,"m2":0.08,"l2":-0.2,"h2":0.43,"m3":0.78,"l3":0.38,"h3":1.18,"m4":0.35,"l4":0.05,"h4":0.65},
{"x":60,"m0":0.95,"l0":0.5,"h0":1.2,"m1":0.07,"l1":-0.2,"h1":0.27,"m2":0.15,"l2":-0.2,"h2":0.5,"m3":0.85,"l3":0.45,"h3":1.2,"m4":0.25,"l4":-0.05,"h4":0.55},
{"x":65,"m0":1.0,"l0":0.55,"h0":1.2,"m1":0.06,"l1":-0.2,"h1":0.26,"m2":0.1,"l2":-0.2,"h2":0.45,"m3":0.82,"l3":0.42,"h3":1.2,"m4":0.3,"l4":0.0,"h4":0.6},
{"x":70,"m0":0.85,"l0":0.4,"h0":1.2,"m1":0.08,"l1":-0.2,"h1":0.28,"m2":0.12,"l2":-0.2,"h2":0.47,"m3":0.8,"l3":0.4,"h3":1.2,"m4":0.32,"l4":0.02,"h4":0.62},
{"x":75,"m0":0.98,"l0":0.53,"h0":1.2,"m1":0.07,"l1":-0.2,"h1":0.27,"m2":0.08,"l2":-0.2,"h2":0.43,"m3":0.82,"l3":0.42,"h3":1.2,"m4":0.28,"l4":-0.02,"h4":0.58},
{"x":80,"m0":0.7,"l0":0.25,"h0":1.15,"m1":0.07,"l1":-0.2,"h1":0.27,"m2":0.15,"l2":-0.2,"h2":0.5,"m3":0.6,"l3":0.2,"h3":1.0,"m4":0.3,"l4":0.0,"h4":0.6},
{"x":85,"m0":0.55,"l0":0.1,"h0":1.0,"m1":0.06,"l1":-0.2,"h1":0.26,"m2":0.02,"l2":-0.2,"h2":0.37,"m3":0.65,"l3":0.25,"h3":1.05,"m4":0.25,"l4":-0.05,"h4":0.55},
{"x":90,"m0":0.88,"l0":0.43,"h0":1.2,"m1":0.06,"l1":-0.2,"h1":0.26,"m2":0.05,"l2":-0.2,"h2":0.4,"m3":0.55,"l3":0.15,"h3":0.95,"m4":0.32,"l4":0.02,"h4":0.62},
{"x":95,"m0":0.95,"l0":0.5,"h0":1.2,"m1":0.07,"l1":-0.2,"h1":0.27,"m2":0.12,"l2":-0.2,"h2":0.47,"m3":0.52,"l3":0.12,"h3":0.92,"m4":0.28,"l4":-0.02,"h4":0.58},
{"x":100,"m0":1.0,"l0":0.55,"h0":1.2,"m1":0.06,"l1":-0.2,"h1":0.26,"m2":0.05,"l2":-0.2,"h2":0.4,"m3":0.5,"l3":0.1,"h3":0.9,"m4":0.22,"l4":-0.08,"h4":0.52},
{"x":105,"m0":0.92,"l0":0.47,"h0":1.2,"m1":0.05,"l1":-0.2,"h1":0.25,"m2":0.02,"l2":-0.2,"h2":0.37,"m3":0.45,"l3":0.05,"h3":0.85,"m4":0.3,"l4":0.0,"h4":0.6},
{"x":110,"m0":0.8,"l0":0.35,"h0":1.2,"m1":0.06,"l1":-0.2,"h1":0.26,"m2":0.05,"l2":-0.2,"h2":0.4,"m3":0.4,"l3":0.0,"h3":0.8,"m4":0.33,"l4":0.03,"h4":0.63},
{"x":115,"m0":0.7,"l0":0.25,"h0":1.15,"m1":0.08,"l1":-0.2,"h1":0.28,"m2":0.68,"l2":0.28,"h2":1.08,"m3":0.48,"l3":0.08,"h3":0.88,"m4":0.04,"l4":-0.2,"h4":0.34},
{"x":120,"m0":0.7,"l0":0.25,"h0":1.15,"m1":0.03,"l1":-0.2,"h1":0.23,"m2":0.7,"l2":0.3,"h2":1.1,"m3":0.52,"l3":0.12,"h3":0.92,"m4":0.04,"l4":-0.2,"h4":0.34},
{"x":125,"m0":0.55,"l0":0.1,"h0":1.0,"m1":0.02,"l1":-0.2,"h1":0.22,"m2":0.85,"l2":0.45,"h2":1.2,"m3":0.45,"l3":0.05,"h3":0.85,"m4":0.02,"l4":-0.2,"h4":0.32},
{"x":130,"m0":0.38,"l0":-0.07,"h0":0.83,"m1":0.02,"l1":-0.2,"h1":0.22,"m2":0.9,"l2":0.5,"h2":1.2,"m3":0.53,"l3":0.13,"h3":0.93,"m4":0.01,"l4":-0.2,"h4":0.31},
{"x":135,"m0":0.35,"l0":-0.1,"h0":0.8,"m1":0.02,"l1":-0.2,"h1":0.22,"m2":0.85,"l2":0.45,"h2":1.2,"m3":0.53,"l3":0.13,"h3":0.93,"m4":0.0,"l4":-0.2,"h4":0.3},
{"x":140,"m0":0.38,"l0":-0.07,"h0":0.83,"m1":0.01,"l1":-0.2,"h1":0.21,"m2":0.9,"l2":0.5,"h2":1.2,"m3":0.53,"l3":0.13,"h3":0.93,"m4":0.01,"l4":-0.2,"h4":0.31},
{"x":145,"m0":0.22,"l0":-0.2,"h0":0.67,"m1":0.01,"l1":-0.2,"h1":0.21,"m2":0.65,"l2":0.25,"h2":1.05,"m3":0.35,"l3":-0.05,"h3":0.75,"m4":0.0,"l4":-0.2,"h4":0.3},
{"x":150,"m0":0.38,"l0":-0.07,"h0":0.83,"m1":0.01,"l1":-0.2,"h1":0.21,"m2":0.9,"l2":0.5,"h2":1.2,"m3":0.5,"l3":0.1,"h3":0.9,"m4":0.01,"l4":-0.2,"h4":0.31},
{"x":155,"m0":0.32,"l0":-0.13,"h0":0.77,"m1":0.02,"l1":-0.2,"h1":0.22,"m2":0.6,"l2":0.2,"h2":1.0,"m3":0.45,"l3":0.05,"h3":0.85,"m4":0.02,"l4":-0.2,"h4":0.32},
{"x":160,"m0":0.5,"l0":0.05,"h0":0.95,"m1":0.01,"l1":-0.2,"h1":0.21,"m2":0.85,"l2":0.45,"h2":1.2,"m3":0.55,"l3":0.15,"h3":0.95,"m4":0.02,"l4":-0.2,"h4":0.32},
{"x":165,"m0":0.65,"l0":0.2,"h0":1.1,"m1":0.02,"l1":-0.2,"h1":0.22,"m2":0.55,"l2":0.15,"h2":0.95,"m3":0.45,"l3":0.05,"h3":0.85,"m4":0.02,"l4":-0.2,"h4":0.32},
{"x":170,"m0":0.45,"l0":0.0,"h0":0.9,"m1":0.02,"l1":-0.2,"h1":0.22,"m2":0.38,"l2":-0.02,"h2":0.78,"m3":0.42,"l3":0.02,"h3":0.82,"m4":0.03,"l4":-0.2,"h4":0.33},
{"x":175,"m0":0.4,"l0":-0.05,"h0":0.85,"m1":0.03,"l1":-0.2,"h1":0.23,"m2":0.72,"l2":0.32,"h2":1.12,"m3":0.55,"l3":0.15,"h3":0.95,"m4":0.03,"l4":-0.2,"h4":0.33},
{"x":180,"m0":0.6,"l0":0.15,"h0":1.05,"m1":0.08,"l1":-0.2,"h1":0.28,"m2":0.5,"l2":0.15,"h2":0.85,"m3":0.72,"l3":0.32,"h3":1.12,"m4":0.15,"l4":-0.15,"h4":0.45},
{"x":185,"m0":0.42,"l0":-0.03,"h0":0.87,"m1":0.05,"l1":-0.2,"h1":0.25,"m2":0.45,"l2":0.1,"h2":0.8,"m3":0.75,"l3":0.35,"h3":1.15,"m4":0.12,"l4":-0.18,"h4":0.42},
{"x":190,"m0":0.3,"l0":-0.15,"h0":0.75,"m1":0.04,"l1":-0.2,"h1":0.24,"m2":0.55,"l2":0.2,"h2":0.9,"m3":0.7,"l3":0.3,"h3":1.1,"m4":0.1,"l4":-0.2,"h4":0.4},
{"x":195,"m0":0.32,"l0":-0.13,"h0":0.77,"m1":0.04,"l1":-0.2,"h1":0.24,"m2":0.45,"l2":0.1,"h2":0.8,"m3":0.7,"l3":0.3,"h3":1.1,"m4":0.08,"l4":-0.2,"h4":0.38},
{"x":200,"m0":0.32,"l0":-0.13,"h0":0.77,"m1":0.04,"l1":-0.2,"h1":0.24,"m2":0.43,"l2":0.08,"h2":0.78,"m3":0.7,"l3":0.3,"h3":1.1,"m4":0.1,"l4":-0.2,"h4":0.4},
{"x":205,"m0":0.2,"l0":-0.2,"h0":0.65,"m1":0.03,"l1":-0.2,"h1":0.23,"m2":0.55,"l2":0.2,"h2":0.9,"m3":0.62,"l3":0.22,"h3":1.02,"m4":0.08,"l4":-0.2,"h4":0.38},
{"x":210,"m0":0.1,"l0":-0.2,"h0":0.55,"m1":0.03,"l1":-0.2,"h1":0.23,"m2":0.55,"l2":0.2,"h2":0.9,"m3":0.66,"l3":0.26,"h3":1.06,"m4":0.05,"l4":-0.2,"h4":0.35},
{"x":215,"m0":0.45,"l0":0.0,"h0":0.9,"m1":0.04,"l1":-0.2,"h1":0.24,"m2":0.45,"l2":0.1,"h2":0.8,"m3":0.75,"l3":0.35,"h3":1.15,"m4":0.2,"l4":-0.1,"h4":0.5},
{"x":220,"m0":0.5,"l0":0.05,"h0":0.95,"m1":0.04,"l1":-0.2,"h1":0.24,"m2":0.48,"l2":0.13,"h2":0.83,"m3":0.7,"l3":0.3,"h3":1.1,"m4":0.22,"l4":-0.08,"h4":0.52},
{"x":225,"m0":0.52,"l0":0.07,"h0":0.97,"m1":0.04,"l1":-0.2,"h1":0.24,"m2":0.52,"l2":0.17,"h2":0.87,"m3":0.68,"l3":0.28,"h3":1.08,"m4":0.18,"l4":-0.12,"h4":0.48},
{"x":230,"m0":0.48,"l0":0.03,"h0":0.93,"m1":0.05,"l1":-0.2,"h1":0.25,"m2":0.45,"l2":0.1,"h2":0.8,"m3":0.8,"l3":0.4,"h3":1.2,"m4":0.22,"l4":-0.08,"h4":0.52},
{"x":235,"m0":0.25,"l0":-0.2,"h0":0.7,"m1":0.04,"l1":-0.2,"h1":0.24,"m2":0.25,"l2":-0.1,"h2":0.6,"m3":0.72,"l3":0.32,"h3":1.12,"m4":0.28,"l4":-0.02,"h4":0.58},
{"x":240,"m0":0.22,"l0":-0.2,"h0":0.67,"m1":0.05,"l1":-0.2,"h1":0.25,"m2":0.2,"l2":-0.15,"h2":0.55,"m3":0.6,"l3":0.2,"h3":1.0,"m4":0.15,"l4":-0.15,"h4":0.45},
{"x":245,"m0":0.1,"l0":-0.2,"h0":0.45,"m1":0.01,"l1":-0.02,"h1":0.04,"m2":0.04,"l2":-0.05,"h2":0.15,"m3":0.95,"l3":0.55,"h3":1.2,"m4":0.8,"l4":0.4,"h4":1.2},
{"x":250,"m0":0.12,"l0":-0.2,"h0":0.47,"m1":0.0,"l1":-0.01,"h1":0.01,"m2":0.04,"l2":-0.05,"h2":0.15,"m3":0.97,"l3":0.57,"h3":1.2,"m4":0.88,"l4":0.48,"h4":1.2},
{"x":255,"m0":0.1,"l0":-0.2,"h0":0.45,"m1":0.0,"l1":-0.01,"h1":0.01,"m2":0.04,"l2":-0.05,"h2":0.15,"m3":0.98,"l3":0.58,"h3":1.2,"m4":0.55,"l4":0.15,"h4":0.95},
{"x":260,"m0":0.12,"l0":-0.2,"h0":0.47,"m1":0.0,"l1":-0.01,"h1":0.01,"m2":0.04,"l2":-0.05,"h2":0.15,"m3":0.95,"l3":0.55,"h3":1.2,"m4":0.62,"l4":0.22,"h4":1.02},
{"x":265,"m0":0.1,"l0":-0.2,"h0":0.45,"m1":0.0,"l1":-0.01,"h1":0.01,"m2":0.03,"l2":-0.05,"h2":0.14,"m3":0.97,"l3":0.57,"h3":1.2,"m4":0.65,"l4":0.25,"h4":1.05},
{"x":270,"m0":0.07,"l0":-0.2,"h0":0.42,"m1":0.0,"l1":-0.01,"h1":0.01,"m2":0.03,"l2":-0.05,"h2":0.14,"m3":0.65,"l3":0.25,"h3":1.05,"m4":0.6,"l4":0.2,"h4":1.0},
{"x":275,"m0":0.1,"l0":-0.2,"h0":0.45,"m1":0.0,"l1":-0.01,"h1":0.01,"m2":0.02,"l2":-0.05,"h2":0.13,"m3":1.0,"l3":0.6,"h3":1.2,"m4":0.55,"l4":0.15,"h4":0.95},
{"x":280,"m0":0.12,"l0":-0.2,"h0":0.47,"m1":0.0,"l1":-0.01,"h1":0.01,"m2":0.1,"l2":-0.05,"h2":0.25,"m3":0.97,"l3":0.57,"h3":1.2,"m4":0.48,"l4":0.08,"h4":0.88},
{"x":285,"m0":0.25,"l0":-0.2,"h0":0.7,"m1":0.02,"l1":-0.1,"h1":0.1,"m2":0.18,"l2":-0.17,"h2":0.53,"m3":0.93,"l3":0.53,"h3":1.2,"m4":0.92,"l4":0.62,"h4":1.2},
{"x":290,"m0":0.28,"l0":-0.17,"h0":0.73,"m1":0.02,"l1":-0.1,"h1":0.1,"m2":0.2,"l2":-0.15,"h2":0.55,"m3":0.92,"l3":0.52,"h3":1.2,"m4":0.92,"l4":0.62,"h4":1.2},
{"x":295,"m0":0.25,"l0":-0.2,"h0":0.7,"m1":0.03,"l1":-0.1,"h1":0.11,"m2":0.18,"l2":-0.17,"h2":0.53,"m3":0.9,"l3":0.5,"h3":1.2,"m4":0.9,"l4":0.6,"h4":1.2},
{"x":300,"m0":0.28,"l0":-0.17,"h0":0.73,"m1":0.02,"l1":-0.1,"h1":0.1,"m2":0.18,"l2":-0.17,"h2":0.53,"m3":0.85,"l3":0.45,"h3":1.2,"m4":0.9,"l4":0.6,"h4":1.2},
{"x":305,"m0":0.7,"l0":0.25,"h0":1.15,"m1":0.07,"l1":-0.2,"h1":0.27,"m2":0.22,"l2":-0.13,"h2":0.57,"m3":0.8,"l3":0.4,"h3":1.2,"m4":0.38,"l4":0.08,"h4":0.68},
{"x":310,"m0":0.75,"l0":0.3,"h0":1.2,"m1":0.07,"l1":-0.2,"h1":0.27,"m2":0.28,"l2":-0.07,"h2":0.63,"m3":0.7,"l3":0.3,"h3":1.1,"m4":0.4,"l4":0.1,"h4":0.7},
{"x":315,"m0":0.65,"l0":0.2,"h0":1.1,"m1":0.07,"l1":-0.2,"h1":0.27,"m2":0.25,"l2":-0.1,"h2":0.6,"m3":0.88,"l3":0.48,"h3":1.2,"m4":0.38,"l4":0.08,"h4":0.68},
{"x":320,"m0":0.78,"l0":0.33,"h0":1.2,"m1":0.08,"l1":-0.2,"h1":0.28,"m2":0.32,"l2":-0.03,"h2":0.67,"m3":0.75,"l3":0.35,"h3":1.15,"m4":0.4,"l4":0.1,"h4":0.7},
{"x":325,"m0":0.8,"l0":0.35,"h0":1.2,"m1":0.07,"l1":-0.2,"h1":0.27,"m2":0.28,"l2":-0.07,"h2":0.63,"m3":0.88,"l3":0.48,"h3":1.2,"m4":0.4,"l4":0.1,"h4":0.7},
{"x":330,"m0":0.7,"l0":0.25,"h0":1.15,"m1":0.08,"l1":-0.2,"h1":0.28,"m2":0.35,"l2":0.0,"h2":0.7,"m3":0.7,"l3":0.3,"h3":1.1,"m4":0.38,"l4":0.08,"h4":0.68},
{"x":335,"m0":0.62,"l0":0.17,"h0":1.07,"m1":0.08,"l1":-0.2,"h1":0.28,"m2":0.3,"l2":-0.05,"h2":0.65,"m3":0.58,"l3":0.18,"h3":0.98,"m4":0.45,"l4":0.15,"h4":0.75},
{"x":340,"m0":0.62,"l0":0.17,"h0":1.07,"m1":0.09,"l1":-0.2,"h1":0.29,"m2":0.32,"l2":-0.03,"h2":0.67,"m3":0.58,"l3":0.18,"h3":0.98,"m4":0.5,"l4":0.2,"h4":0.8}
  ]
},
"spacing": 33,
"resolve": {"scale": {"color": "independent"}, "legend": {"color": "independent"}},
"vconcat": [
 {"spacing": 10, "resolve": {"scale": {"color": "independent"}, "legend": {"color": "independent"}}, "hconcat": [
  {"width": 465, "height": 192, "data": {"name": "pa"},
   "title": {"text": "(a) bisection cluster", "orient": "bottom", "anchor": "middle", "frame": "bounds", "offset": 10, "font": "Liberation Serif", "fontSize": 20, "fontWeight": "normal", "color": "black"},
   "encoding": {"x": {"field": "x", "type": "quantitative", "scale": {"domain": [-17, 357], "nice": false, "zero": false}, "axis": {"title": null, "values": [18,48,71,103,154,219,264,311], "labelExpr": "datum.value==18?'[I—1](2, 14]':datum.value==48?'[I—1](2, 17]':datum.value==71?'[I—1](2, 20]':datum.value==103?'[I—1](2, 23]':datum.value==154?'[I—1](4, 8]':datum.value==219?'[I—1](6, 8]':datum.value==264?'[I—1](11, 0]':'[I—1](11, 14]'", "labelAngle": 45, "labelAlign": "left", "labelBaseline": "middle", "labelFontSize": 5.5, "labelColor": "#555", "ticks": false, "tickSize": 0, "domain": false, "grid": false, "labelPadding": 5, "labelOverlap": false, "labelFlush": false}}},
   "layer": [
    {"data": {"values": [{}]}, "mark": {"type": "rect", "color": "#e6e6e6", "opacity": 0.55}, "encoding": {"x": {"datum": 0, "type": "quantitative", "title": null}, "x2": {"datum": 340}, "y": {"datum": -0.27, "type": "quantitative", "scale": {"domain": [-0.27, 1.28], "nice": false, "zero": false}, "title": "rate"}, "y2": {"datum": 1.28}}},
    {"data": {"name": "seg"}, "mark": {"type": "rule", "color": "black", "strokeWidth": 1.5}, "encoding": {"x": {"field": "s", "type": "quantitative", "title": null}, "x2": {"field": "e"}, "y": {"datum": -0.27, "type": "quantitative", "title": "rate"}}},
    {"mark": {"type": "area", "opacity": 0.25}, "encoding": {"y": {"field": "l0", "type": "quantitative", "title": "rate"}, "y2": {"field": "h0"}, "color": {"datum": "cluser 0", "legend": {"title": null, "symbolType": "stroke", "symbolStrokeWidth": 2.5, "symbolOpacity": 0.6}, "scale": {"domain": ["cluser 0", "cluser 1"], "range": ["#e41a1c", "#377eb8"]}}}},
    {"mark": {"type": "area", "opacity": 0.25}, "encoding": {"y": {"field": "l1", "type": "quantitative", "title": "rate"}, "y2": {"field": "h1"}, "color": {"datum": "cluser 1"}}},
    {"mark": {"type": "line", "strokeWidth": 1}, "encoding": {"y": {"field": "m0", "type": "quantitative", "title": "rate"}, "color": {"datum": "cluser 0"}}},
    {"mark": {"type": "line", "strokeWidth": 1}, "encoding": {"y": {"field": "m1", "type": "quantitative", "title": "rate"}, "color": {"datum": "cluser 1"}}}
   ]},
  {"width": 459, "height": 192, "data": {"name": "pb"},
   "title": {"text": "(b) trisection cluster", "orient": "bottom", "anchor": "middle", "frame": "bounds", "offset": 10, "font": "Liberation Serif", "fontSize": 20, "fontWeight": "normal", "color": "black"},
   "encoding": {"x": {"field": "x", "type": "quantitative", "scale": {"domain": [-17, 357], "nice": false, "zero": false}, "axis": {"title": null, "values": [18,48,71,103,154,219,264,311], "labelExpr": "datum.value==18?'[I—1](2, 14]':datum.value==48?'[I—1](2, 17]':datum.value==71?'[I—1](2, 20]':datum.value==103?'[I—1](2, 23]':datum.value==154?'[I—1](4, 8]':datum.value==219?'[I—1](6, 8]':datum.value==264?'[I—1](11, 0]':'[I—1](11, 14]'", "labelAngle": 45, "labelAlign": "left", "labelBaseline": "middle", "labelFontSize": 5.5, "labelColor": "#555", "ticks": false, "tickSize": 0, "domain": false, "grid": false, "labelPadding": 5, "labelOverlap": false, "labelFlush": false}}},
   "layer": [
    {"data": {"values": [{}]}, "mark": {"type": "rect", "color": "#e6e6e6", "opacity": 0.55}, "encoding": {"x": {"datum": 0, "type": "quantitative", "title": null}, "x2": {"datum": 340}, "y": {"datum": -0.27, "type": "quantitative", "scale": {"domain": [-0.27, 1.28], "nice": false, "zero": false}, "title": "rate"}, "y2": {"datum": 1.28}}},
    {"data": {"name": "seg"}, "mark": {"type": "rule", "color": "black", "strokeWidth": 1.5}, "encoding": {"x": {"field": "s", "type": "quantitative", "title": null}, "x2": {"field": "e"}, "y": {"datum": -0.27, "type": "quantitative", "title": "rate"}}},
    {"mark": {"type": "area", "opacity": 0.25}, "encoding": {"y": {"field": "l0", "type": "quantitative", "title": "rate"}, "y2": {"field": "h0"}, "color": {"datum": "cluser 0", "legend": {"title": null, "symbolType": "stroke", "symbolStrokeWidth": 2.5, "symbolOpacity": 0.6}, "scale": {"domain": ["cluser 0", "cluser 1", "cluser 2"], "range": ["#e41a1c", "#377eb8", "#4daf4a"]}}}},
    {"mark": {"type": "area", "opacity": 0.25}, "encoding": {"y": {"field": "l1", "type": "quantitative", "title": "rate"}, "y2": {"field": "h1"}, "color": {"datum": "cluser 1"}}},
    {"mark": {"type": "area", "opacity": 0.25}, "encoding": {"y": {"field": "l2", "type": "quantitative", "title": "rate"}, "y2": {"field": "h2"}, "color": {"datum": "cluser 2"}}},
    {"mark": {"type": "line", "strokeWidth": 1}, "encoding": {"y": {"field": "m0", "type": "quantitative", "title": "rate"}, "color": {"datum": "cluser 0"}}},
    {"mark": {"type": "line", "strokeWidth": 1}, "encoding": {"y": {"field": "m1", "type": "quantitative", "title": "rate"}, "color": {"datum": "cluser 1"}}},
    {"mark": {"type": "line", "strokeWidth": 1}, "encoding": {"y": {"field": "m2", "type": "quantitative", "title": "rate"}, "color": {"datum": "cluser 2"}}}
   ]}
 ]},
 {"spacing": 10, "resolve": {"scale": {"color": "independent"}, "legend": {"color": "independent"}}, "hconcat": [
  {"width": 465, "height": 192, "data": {"name": "pc"},
   "title": {"text": "(c) quadsection cluster", "orient": "bottom", "anchor": "middle", "frame": "bounds", "offset": 10, "font": "Liberation Serif", "fontSize": 20, "fontWeight": "normal", "color": "black"},
   "encoding": {"x": {"field": "x", "type": "quantitative", "scale": {"domain": [-17, 357], "nice": false, "zero": false}, "axis": {"title": null, "values": [18,48,71,103,154,219,264,311], "labelExpr": "datum.value==18?'[I—1](2, 14]':datum.value==48?'[I—1](2, 17]':datum.value==71?'[I—1](2, 20]':datum.value==103?'[I—1](2, 23]':datum.value==154?'[I—1](4, 8]':datum.value==219?'[I—1](6, 8]':datum.value==264?'[I—1](11, 0]':'[I—1](11, 14]'", "labelAngle": 45, "labelAlign": "left", "labelBaseline": "middle", "labelFontSize": 5.5, "labelColor": "#555", "ticks": false, "tickSize": 0, "domain": false, "grid": false, "labelPadding": 5, "labelOverlap": false, "labelFlush": false}}},
   "layer": [
    {"data": {"values": [{}]}, "mark": {"type": "rect", "color": "#e6e6e6", "opacity": 0.55}, "encoding": {"x": {"datum": 0, "type": "quantitative", "title": null}, "x2": {"datum": 340}, "y": {"datum": -0.27, "type": "quantitative", "scale": {"domain": [-0.27, 1.28], "nice": false, "zero": false}, "title": "rate"}, "y2": {"datum": 1.28}}},
    {"data": {"name": "seg"}, "mark": {"type": "rule", "color": "black", "strokeWidth": 1.5}, "encoding": {"x": {"field": "s", "type": "quantitative", "title": null}, "x2": {"field": "e"}, "y": {"datum": -0.27, "type": "quantitative", "title": "rate"}}},
    {"mark": {"type": "area", "opacity": 0.25}, "encoding": {"y": {"field": "l0", "type": "quantitative", "title": "rate"}, "y2": {"field": "h0"}, "color": {"datum": "cluser 0", "legend": {"title": null, "symbolType": "stroke", "symbolStrokeWidth": 2.5, "symbolOpacity": 0.6}, "scale": {"domain": ["cluser 0", "cluser 1", "cluser 2", "cluser 3"], "range": ["#e41a1c", "#377eb8", "#4daf4a", "#984ea3"]}}}},
    {"mark": {"type": "area", "opacity": 0.25}, "encoding": {"y": {"field": "l1", "type": "quantitative", "title": "rate"}, "y2": {"field": "h1"}, "color": {"datum": "cluser 1"}}},
    {"mark": {"type": "area", "opacity": 0.25}, "encoding": {"y": {"field": "l2", "type": "quantitative", "title": "rate"}, "y2": {"field": "h2"}, "color": {"datum": "cluser 2"}}},
    {"mark": {"type": "area", "opacity": 0.25}, "encoding": {"y": {"field": "l3", "type": "quantitative", "title": "rate"}, "y2": {"field": "h3"}, "color": {"datum": "cluser 3"}}},
    {"mark": {"type": "line", "strokeWidth": 1}, "encoding": {"y": {"field": "m0", "type": "quantitative", "title": "rate"}, "color": {"datum": "cluser 0"}}},
    {"mark": {"type": "line", "strokeWidth": 1}, "encoding": {"y": {"field": "m1", "type": "quantitative", "title": "rate"}, "color": {"datum": "cluser 1"}}},
    {"mark": {"type": "line", "strokeWidth": 1}, "encoding": {"y": {"field": "m2", "type": "quantitative", "title": "rate"}, "color": {"datum": "cluser 2"}}},
    {"mark": {"type": "line", "strokeWidth": 1}, "encoding": {"y": {"field": "m3", "type": "quantitative", "title": "rate"}, "color": {"datum": "cluser 3"}}}
   ]},
  {"width": 459, "height": 192, "data": {"name": "pd"},
   "title": {"text": "(d) quintisection cluster", "orient": "bottom", "anchor": "middle", "frame": "bounds", "offset": 10, "font": "Liberation Serif", "fontSize": 20, "fontWeight": "normal", "color": "black"},
   "encoding": {"x": {"field": "x", "type": "quantitative", "scale": {"domain": [-17, 357], "nice": false, "zero": false}, "axis": {"title": null, "values": [18,48,71,103,154,219,264,311], "labelExpr": "datum.value==18?'[I—1](2, 14]':datum.value==48?'[I—1](2, 17]':datum.value==71?'[I—1](2, 20]':datum.value==103?'[I—1](2, 23]':datum.value==154?'[I—1](4, 8]':datum.value==219?'[I—1](6, 8]':datum.value==264?'[I—1](11, 0]':'[I—1](11, 14]'", "labelAngle": 45, "labelAlign": "left", "labelBaseline": "middle", "labelFontSize": 5.5, "labelColor": "#555", "ticks": false, "tickSize": 0, "domain": false, "grid": false, "labelPadding": 5, "labelOverlap": false, "labelFlush": false}}},
   "layer": [
    {"data": {"values": [{}]}, "mark": {"type": "rect", "color": "#e6e6e6", "opacity": 0.55}, "encoding": {"x": {"datum": 0, "type": "quantitative", "title": null}, "x2": {"datum": 340}, "y": {"datum": -0.27, "type": "quantitative", "scale": {"domain": [-0.27, 1.28], "nice": false, "zero": false}, "title": "rate"}, "y2": {"datum": 1.28}}},
    {"data": {"name": "seg"}, "mark": {"type": "rule", "color": "black", "strokeWidth": 1.5}, "encoding": {"x": {"field": "s", "type": "quantitative", "title": null}, "x2": {"field": "e"}, "y": {"datum": -0.27, "type": "quantitative", "title": "rate"}}},
    {"mark": {"type": "area", "opacity": 0.25}, "encoding": {"y": {"field": "l0", "type": "quantitative", "title": "rate"}, "y2": {"field": "h0"}, "color": {"datum": "cluser 0", "legend": {"title": null, "symbolType": "stroke", "symbolStrokeWidth": 2.5, "symbolOpacity": 0.6}, "scale": {"domain": ["cluser 0", "cluser 1", "cluser 2", "cluser 3", "cluser 4"], "range": ["#e41a1c", "#377eb8", "#4daf4a", "#984ea3", "#ff7f00"]}}}},
    {"mark": {"type": "area", "opacity": 0.25}, "encoding": {"y": {"field": "l1", "type": "quantitative", "title": "rate"}, "y2": {"field": "h1"}, "color": {"datum": "cluser 1"}}},
    {"mark": {"type": "area", "opacity": 0.25}, "encoding": {"y": {"field": "l2", "type": "quantitative", "title": "rate"}, "y2": {"field": "h2"}, "color": {"datum": "cluser 2"}}},
    {"mark": {"type": "area", "opacity": 0.25}, "encoding": {"y": {"field": "l3", "type": "quantitative", "title": "rate"}, "y2": {"field": "h3"}, "color": {"datum": "cluser 3"}}},
    {"mark": {"type": "area", "opacity": 0.25}, "encoding": {"y": {"field": "l4", "type": "quantitative", "title": "rate"}, "y2": {"field": "h4"}, "color": {"datum": "cluser 4"}}},
    {"mark": {"type": "line", "strokeWidth": 1}, "encoding": {"y": {"field": "m0", "type": "quantitative", "title": "rate"}, "color": {"datum": "cluser 0"}}},
    {"mark": {"type": "line", "strokeWidth": 1}, "encoding": {"y": {"field": "m1", "type": "quantitative", "title": "rate"}, "color": {"datum": "cluser 1"}}},
    {"mark": {"type": "line", "strokeWidth": 1}, "encoding": {"y": {"field": "m2", "type": "quantitative", "title": "rate"}, "color": {"datum": "cluser 2"}}},
    {"mark": {"type": "line", "strokeWidth": 1}, "encoding": {"y": {"field": "m3", "type": "quantitative", "title": "rate"}, "color": {"datum": "cluser 3"}}},
    {"mark": {"type": "line", "strokeWidth": 1}, "encoding": {"y": {"field": "m4", "type": "quantitative", "title": "rate"}, "color": {"datum": "cluser 4"}}}
   ]}
 ]}
]
}
